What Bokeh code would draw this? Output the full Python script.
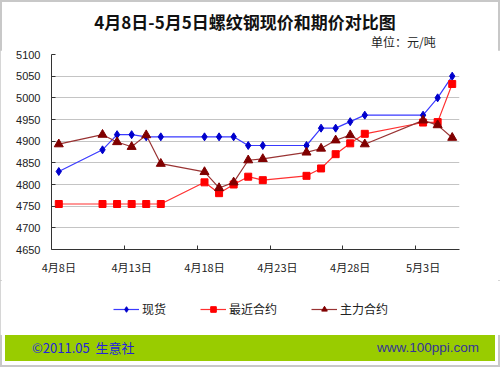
from datetime import date
from bokeh.plotting import figure
from bokeh.models import (ColumnDataSource, FixedTicker, Legend, LegendItem, Range1d, Div)
from bokeh.layouts import column
from bokeh.embed import file_html
from bokeh.resources import INLINE

# ---- data ----
dates = ["2011-04-08", "2011-04-11", "2011-04-12", "2011-04-13", "2011-04-14", "2011-04-15",
         "2011-04-18", "2011-04-19", "2011-04-20", "2011-04-21", "2011-04-22",
         "2011-04-25", "2011-04-26", "2011-04-27", "2011-04-28", "2011-04-29",
         "2011-05-03", "2011-05-04", "2011-05-05"]
spot = [4830, 4880, 4915, 4915, 4910, 4910, 4910, 4910, 4910, 4890, 4890,
        4890, 4930, 4930, 4945, 4960, 4960, 5000, 5050]
nearest = [4755, 4755, 4755, 4755, 4755, 4755, 4805, 4780, 4800, 4818, 4810,
           4820, 4837, 4870, 4895, 4917, 4943, 4944, 5032]
main = [4893, 4915, 4898, 4887, 4914, 4848, 4829, 4792, 4805, 4856, 4859,
        4874, 4883, 4902, 4914, 4893, 4948, 4937, 4908]
series_names = ["现货", "最近合约", "主力合约"]
x_tick_labels = ["4月8日", "4月13日", "4月18日", "4月23日", "4月28日", "5月3日"]
y_ticks = [4650, 4700, 4750, 4800, 4850, 4900, 4950, 5000, 5050, 5100]
title_text = "4月8日-5月5日螺纹钢现价和期价对比图"
unit_text = "单位：元/吨"
footer_left = "©2011.05&nbsp;&nbsp;生意社"
footer_right = "www.100ppi.com"

start = date(2011, 4, 8)
xs = [(date.fromisoformat(d) - start).days + 0.5 for d in dates]
src = ColumnDataSource(dict(x=xs, spot=spot, nearest=nearest, main=main))

CJK_CSS = "'Noto Sans CJK SC'"
CJK = "Noto Sans CJK SC"
W = 500

styles = dict(
    spot=dict(line="#3a3aff", marker="diamond", size=8, fill="#0000cc"),
    nearest=dict(line="#ff3030", marker="square", size=7, fill="#ff0000"),
    main=dict(line="#993333", marker="triangle", size=9, fill="#800000"),
)
keys = ["spot", "nearest", "main"]

# ---- header ----
HH = 50
header_html = (
    f'<div style="position:relative;width:{W}px;height:{HH}px;overflow:hidden;">'
    f'<div style="position:absolute;left:0;top:12px;width:490px;text-align:center;'
    f'font-family:{CJK_CSS};font-weight:bold;font-size:17px;line-height:20px;color:#111;'
    f'white-space:nowrap;">{title_text}</div>'
    f'<div style="position:absolute;left:371px;top:34px;font-family:{CJK_CSS};font-size:12px;'
    f'line-height:15px;color:#222;white-space:nowrap;">{unit_text}</div>'
    '</div>'
)
h = Div(text=header_html, width=W, height=HH, margin=0)

# ---- main chart ----
MH = 230
p = figure(width=W, height=MH, output_backend="svg", toolbar_location=None,
           x_range=Range1d(0, 28), y_range=Range1d(4650, 5100),
           min_border_left=51, min_border_right=41, min_border_top=4, min_border_bottom=31,
           title=None)
p.background_fill_color = "white"
p.border_fill_color = "white"
p.outline_line_color = None

label_pos = [0.5, 5.5, 10.5, 15.5, 20.5, 25.5]
p.xaxis.ticker = FixedTicker(ticks=label_pos, minor_ticks=[5, 10, 15, 20, 25])
p.xaxis.major_label_overrides = {t: l for t, l in zip(label_pos, x_tick_labels)}
p.xaxis.major_tick_in = 0
p.xaxis.major_tick_out = 0
p.xaxis.minor_tick_in = 4
p.xaxis.minor_tick_out = 0
p.xaxis.major_label_text_font = CJK
p.xaxis.major_label_text_font_size = "11px"
p.xaxis.major_label_text_color = "#222222"
p.xaxis.major_label_standoff = 9
p.xaxis.axis_line_color = "#333333"
p.xaxis.minor_tick_line_color = "#333333"

p.yaxis.ticker = FixedTicker(ticks=y_ticks)
p.yaxis.major_tick_in = 4
p.yaxis.major_tick_out = 0
p.yaxis.minor_tick_line_color = None
p.yaxis.major_label_text_font = "Liberation Sans"
p.yaxis.major_label_text_font_size = "11px"
p.yaxis.major_label_text_color = "#222222"
p.yaxis.major_label_standoff = 11
p.yaxis.axis_line_color = "#333333"
p.yaxis.major_tick_line_color = "#333333"

p.xgrid.visible = False
p.ygrid.ticker = FixedTicker(ticks=y_ticks[1:-1])
p.ygrid.grid_line_color = "#c4c4c4"
p.ygrid.grid_line_width = 1

for k in keys:
    s = styles[k]
    p.line("x", k, source=src, line_color=s["line"], line_width=1.2)
    p.scatter("x", k, source=src, marker=s["marker"], size=s["size"],
              fill_color=s["fill"], line_color=s["fill"])

# ---- legend strip (its frame lines up with the chart frame, x from 51) ----
LH = 55
b = figure(width=W, height=LH, output_backend="svg", toolbar_location=None,
           x_range=Range1d(0, 1), y_range=Range1d(0, 1),
           x_axis_type=None, y_axis_type=None, min_border=0, title=None)
b.grid.visible = False
b.outline_line_color = None
items = []
for k, name in zip(keys, series_names):
    s = styles[k]
    # same series data, far outside this strip's y range: only the legend sample shows
    lr = b.line("x", k, source=src, line_color=s["line"], line_width=1.2)
    mr = b.scatter("x", k, source=src, marker=s["marker"], size=s["size"] - 1,
                   fill_color=s["fill"], line_color=s["fill"])
    items.append(LegendItem(label=name, renderers=[lr, mr]))
legend = Legend(items=items, orientation="horizontal", location=(62, 18),
                glyph_width=26, glyph_height=14, label_height=14, label_standoff=3,
                spacing=34, padding=0, margin=0, border_line_color=None,
                background_fill_alpha=0, label_text_font=CJK,
                label_text_font_size="12px", label_text_color="#222222")
b.add_layout(legend, "center")

# ---- footer ----
FH = 367 - HH - MH - LH
footer_html = (
    f'<div style="position:relative;width:{W}px;height:{FH}px;overflow:hidden;">'
    '<div style="position:absolute;left:5px;top:0;width:490px;height:26px;'
    'background:#99cc00;"></div>'
    f'<div style="position:absolute;left:32px;top:5px;font-family:{CJK_CSS};font-size:13px;'
    f'line-height:16px;color:#2323dd;white-space:nowrap;">{footer_left}</div>'
    '<div style="position:absolute;right:21px;top:5px;font-family:\'Liberation Sans\';'
    f'font-size:13.5px;line-height:16px;color:#333399;white-space:nowrap;">{footer_right}</div>'
    '</div>'
)
f = Div(text=footer_html, width=W, height=FH, margin=0)

layout = column(h, p, b, f, spacing=0,
                styles={"outline": "2px solid #c8c8c8", "outline-offset": "-2px"})
open("out.html", "w").write(file_html(layout, INLINE))
